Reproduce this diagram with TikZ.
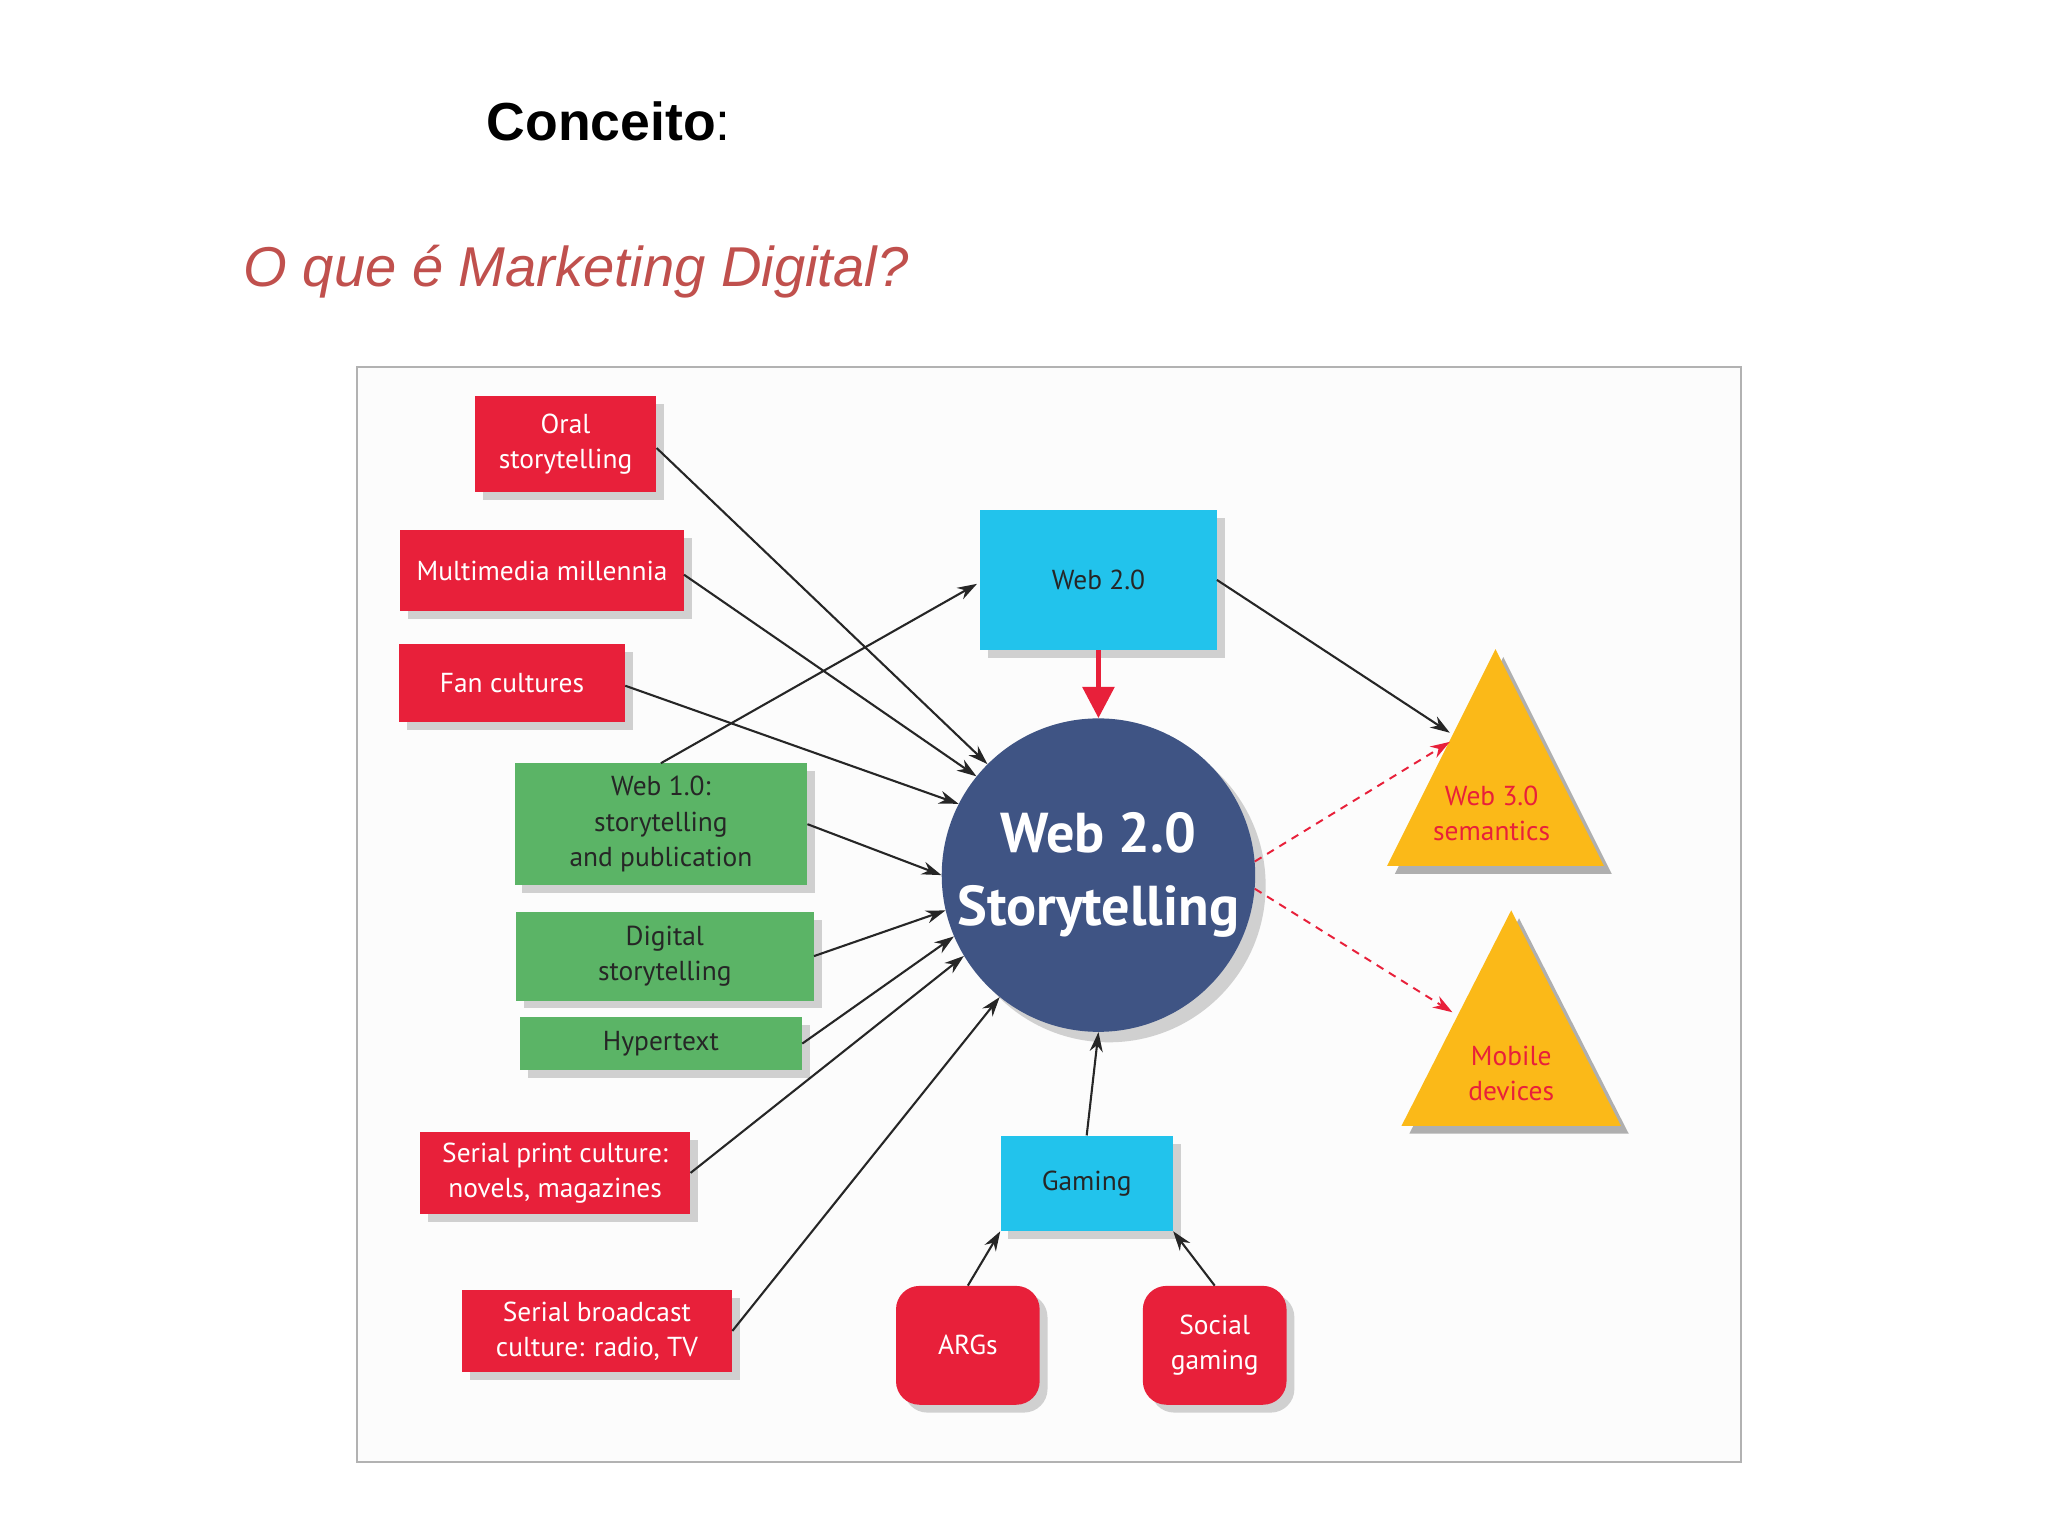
\documentclass[tikz,border=0pt]{standalone}
\usepackage{fontspec}
\setmainfont{Liberation Sans}
\newfontfamily\boxfont{PT Sans}
\usetikzlibrary{shadows,arrows.meta}
\definecolor{cred}{HTML}{E8203A}
\definecolor{cgreen}{HTML}{5BB466}
\definecolor{ccyan}{HTML}{22C3EC}
\definecolor{cblue}{HTML}{3F5484}
\definecolor{cyel}{HTML}{FBB918}
\definecolor{ctitle}{HTML}{C0504D}
\tikzset{
 bx/.style={drop shadow={shadow xshift=6pt,shadow yshift=-6pt,opacity=0.35},align=center,inner sep=0pt,font=\boxfont\fontsize{21}{27}\selectfont},
 rbox/.style={bx,fill=cred,text=white},
 gbox/.style={bx,fill=cgreen,text=black!85},
 cbox/.style={bx,fill=ccyan,text=black!85},
 arr/.style={-{Stealth[length=15pt,width=10pt]},line width=1.6pt,black!85},
 darr/.style={-{Stealth[length=15pt,width=10pt]},line width=1.5pt,cred,dashed,dash pattern=on 6pt off 5pt},
}
\begin{document}
\begin{tikzpicture}[x=1pt,y=-1pt]
\useasboundingbox (0,0) rectangle (1568,1176);
\fill[white] (0,0) rectangle (1568,1176);
\node[font=\bfseries\fontsize{41}{48}\selectfont] (t1) at (466,93) {Conceito{\mdseries:}};
\node[font=\itshape\fontsize{43}{50}\selectfont,text=ctitle] (t2) at (441,208) {O que é Marketing Digital?};
\draw[gray!60,line width=1.5pt,fill=gray!2] (273,281) rectangle (1333,1119);
% boxes
\node[rbox,minimum width=139pt,minimum height=74pt] (oral) at (433,340) {Oral\\storytelling};
\node[rbox,minimum width=217pt,minimum height=62pt] (multi) at (415,437) {Multimedia millennia};
\node[rbox,minimum width=173pt,minimum height=60pt] (fan) at (392,523) {Fan cultures};
\node[gbox,minimum width=224pt,minimum height=93pt] (w10) at (506,631) {Web 1.0:\\storytelling\\and publication};
\node[gbox,minimum width=228pt,minimum height=68pt] (dig) at (509,732) {Digital\\storytelling};
\node[gbox,minimum width=216pt,minimum height=40pt] (hyp) at (506,799) {Hypertext};
\node[rbox,minimum width=207pt,minimum height=63pt] (sprint) at (425,898) {Serial print culture:\\novels, magazines};
\node[rbox,minimum width=207pt,minimum height=63pt] (sbroad) at (457,1019) {Serial broadcast\\culture: radio, TV};
\node[cbox,minimum width=181pt,minimum height=107pt] (web2) at (841,444) {Web 2.0};
\node[circle,fill=cblue,minimum size=240pt,inner sep=0pt,drop shadow={shadow xshift=8pt,shadow yshift=-8pt,opacity=0.35},text=white,align=center,font=\boxfont\bfseries\fontsize{43}{56}\selectfont] (circ) at (841,670) {Web 2.0\\Storytelling};
\node[cbox,minimum width=132pt,minimum height=73pt] (gam) at (832,906) {Gaming};
\node[rbox,rounded corners=18pt,minimum width=110pt,minimum height=91pt] (args) at (741,1030) {ARGs};
\node[rbox,rounded corners=18pt,minimum width=110pt,minimum height=91pt] (soc) at (930,1030) {Social\\gaming};
% triangles
\fill[black,opacity=0.3] (1151,503) -- (1234,669) -- (1068,669) -- cycle;
\fill[cyel] (1145,497) coordinate (tri1) -- (1228,663) -- (1062,663) -- cycle;
\fill[black,opacity=0.3] (1163,703) -- (1247,868) -- (1079,868) -- cycle;
\fill[cyel] (1157,697) coordinate (tri2) -- (1241,862) -- (1073,862) -- cycle;
\node[text=cred,align=center,font=\boxfont\fontsize{21}{27}\selectfont] (w3) at (1142,623) {Web 3.0\\semantics};
\node[text=cred,align=center,font=\boxfont\fontsize{21}{27}\selectfont] (mob) at (1157,822) {Mobile\\devices};
\coordinate (w3in) at (1110,561);
\coordinate (w3d) at (1110,568);
\coordinate (mobd) at (1112,775);
% arrows
\draw[arr] (oral.east) ++(0,3) -- (circ.135);
\draw[arr] (multi.east) ++(0,3) -- (circ.141);
\draw[arr] (fan.east) ++(0,2) -- (circ.153);
\draw[arr] (w10.north) -- (748,447) coordinate (w2in);
\draw[arr] (w10.east) -- (circ.180);
\draw[arr] (dig.east) -- (circ.193);
\draw[arr] (hyp.east) -- (circ.203);
\draw[arr] (sprint.east) -- (circ.211);
\draw[arr] (sbroad.east) -- (circ.231);
\draw[arr] (gam.north) -- (circ.270);
\draw[arr] (args.north) -- (gam.south west);
\draw[arr] (soc.north) -- (gam.south east);
\draw[arr] (web2.east) -- (w3in);
\draw[-{Triangle[length=24pt,width=24pt]},line width=4pt,cred] (web2.south) -- (circ.north);
\draw[darr] (circ.5) -- (w3d);
\draw[darr] (circ.-5) -- (mobd);
\end{tikzpicture}
\end{document}
